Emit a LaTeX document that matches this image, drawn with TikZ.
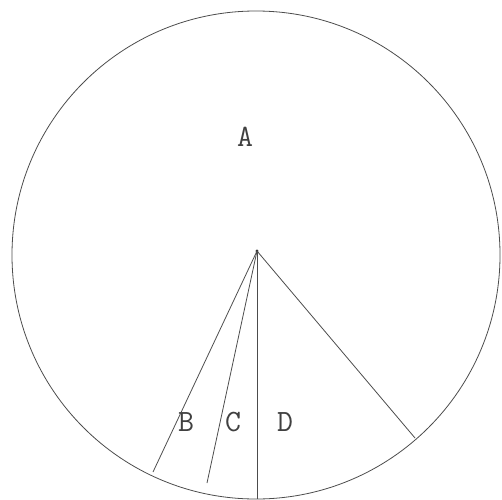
\documentclass[tikz,border=0pt]{standalone}
\begin{document}
\begin{tikzpicture}[
    x=1pt, y=1pt,
    every node/.style={font=\ttfamily\fontsize{31}{34}\selectfont, text=black!75},
    rim/.style={draw=black!70, line width=0.8pt},
    spoke/.style={draw=black!70, line width=0.8pt},
    sector/.style={inner sep=0pt}
]
% -------------------------
% Frame
% -------------------------
    \useasboundingbox (0,0) rectangle (502,499);

% -------------------------
% Circle & hub
% -------------------------
    \coordinate (centre) at (256,244);
    \draw[rim] (centre) circle[radius=244];
    \coordinate (hub) at (257,248);
    \fill[black!80] (hub) circle[radius=1.6];

% -------------------------
% Spoke ends
% -------------------------
    \coordinate (endB) at (153,27);
    \coordinate (endC) at (207,16);
    \coordinate (endD) at (257,0);
    \coordinate (endA) at (415,61);

% -------------------------
% Labels
% -------------------------
    \node[sector] (labA) at (245,362) {A};
    \node[sector] (labB) at (186,77) {B};
    \node[sector] (labC) at (233,77) {C};
    \node[sector] (labD) at (285,77) {D};

% -------------------------
% Spokes
% -------------------------
    \draw[spoke] (hub) -- (endB);
    \draw[spoke] (hub) -- (endC);
    \draw[spoke] (hub) -- (endD);
    \draw[spoke] (hub) -- (endA);
\end{tikzpicture}
\end{document}
